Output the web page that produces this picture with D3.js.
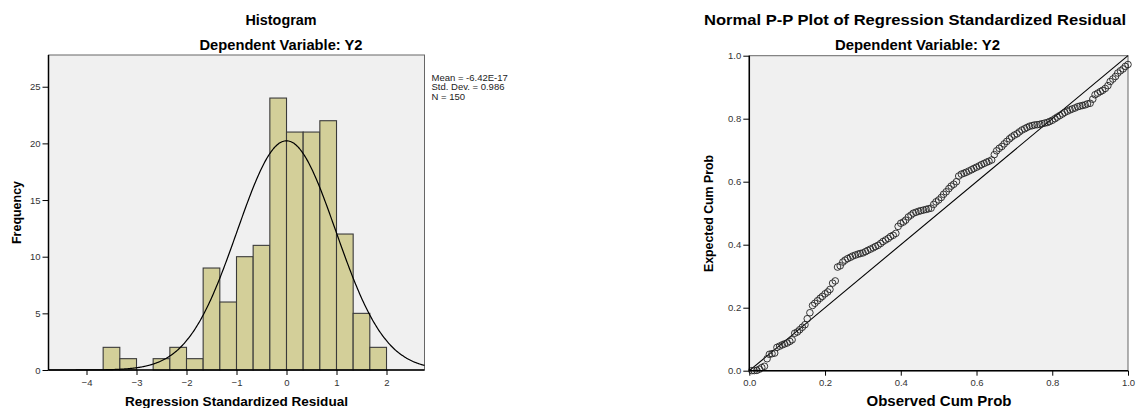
<!DOCTYPE html>
<html lang="en">
<head>
<meta charset="UTF-8">
<title>Regression residuals</title>
<script src="https://d3js.org/d3.v7.min.js"></script>
<style>
  body { margin: 0; background: #fff; }
  svg { font-family: "Liberation Sans", Arial, sans-serif; }
  .title { font-size: 14.5px; font-weight: bold; text-anchor: middle; fill: #000; }
  .axis-label { font-size: 13px; font-weight: bold; text-anchor: middle; fill: #000; }
  .tick text { font-size: 9.5px; fill: #333; font-family: "Liberation Sans", Arial, sans-serif; }
  .tick line { stroke: #000; }
  .legend { font-size: 9.5px; fill: #222; }
</style>
</head>
<body>
<svg width="1137" height="408"></svg>
<script>
// histogram: lower edge of each bin and its count
const binLo = [-3.667, -3.333, -3, -2.667, -2.333, -2, -1.667, -1.333, -1, -0.667, -0.333, 0, 0.333, 0.667, 1, 1.333, 1.667];
const binCounts = [2, 1, 0, 1, 2, 1, 9, 6, 10, 11, 24, 21, 21, 22, 12, 5, 2];
const binWidth = 1 / 3;
const histXTicks = [-4, -3, -2, -1, 0, 1, 2];
const histYTicks = [0, 5, 10, 15, 20, 25];
const resMean = -6.42e-17, resSd = 0.986, resN = 150;
const legendLines = ["Mean = -6.42E-17", "Std. Dev. = 0.986", "N = 150"];

// P-P plot: observed vs expected cumulative probability
const observedCum = [
  .007,.013,.020,.027,.033,.040,.047,.053,.060,.067,
  .073,.080,.087,.093,.100,.107,.113,.120,.127,.133,
  .140,.147,.153,.160,.167,.173,.180,.187,.193,.200,
  .207,.213,.220,.227,.233,.240,.247,.253,.260,.267,
  .273,.280,.287,.293,.300,.307,.313,.320,.327,.333,
  .340,.347,.353,.360,.367,.373,.380,.387,.393,.400,
  .407,.413,.420,.427,.433,.440,.447,.453,.460,.467,
  .473,.480,.487,.493,.500,.507,.513,.520,.527,.533,
  .540,.547,.553,.560,.567,.573,.580,.587,.593,.600,
  .607,.613,.620,.627,.633,.640,.647,.653,.660,.667,
  .673,.680,.687,.693,.700,.707,.713,.720,.727,.733,
  .740,.747,.753,.760,.767,.773,.780,.787,.793,.800,
  .807,.813,.820,.827,.833,.840,.847,.853,.860,.867,
  .873,.880,.887,.893,.900,.907,.913,.920,.927,.933,
  .940,.947,.953,.960,.967,.973,.980,.987,.993,1.000];
const expectedCum = [
  .0003,.0004,.001,.005,.010,.014,.038,.052,.054,.056,
  .074,.078,.082,.085,.088,.093,.098,.119,.123,.130,
  .138,.146,.165,.184,.207,.214,.222,.230,.236,.244,
  .250,.258,.278,.285,.329,.333,.345,.351,.356,.360,
  .364,.367,.370,.372,.374,.378,.382,.386,.390,.394,
  .398,.404,.410,.415,.420,.426,.430,.436,.458,.468,
  .472,.478,.488,.494,.500,.503,.506,.508,.510,.512,
  .514,.516,.528,.536,.542,.550,.560,.568,.578,.586,
  .592,.600,.618,.624,.627,.630,.634,.638,.642,.646,
  .650,.654,.658,.662,.665,.669,.686,.698,.706,.712,
  .720,.728,.736,.742,.748,.752,.758,.764,.768,.772,
  .776,.778,.780,.781,.782,.784,.786,.788,.791,.795,
  .800,.805,.810,.815,.820,.824,.828,.831,.834,.838,
  .840,.842,.844,.847,.849,.862,.876,.881,.886,.890,
  .896,.905,.918,.926,.934,.945,.952,.958,.966,.972];
const ppTicks = [0, 0.2, 0.4, 0.6, 0.8, 1.0];

const svg = d3.select("svg");

function frame(g, x0, x1, y0, y1) {
  g.append("rect").attr("x", x0).attr("y", y1).attr("width", x1 - x0).attr("height", y0 - y1)
    .attr("fill", "#f0f0f0").attr("stroke", "#666").attr("stroke-width", 1);
}
function axisLines(g, x0, x1, y0, y1) {
  g.append("line").attr("x1", x0).attr("x2", x0).attr("y1", y1).attr("y2", y0).attr("stroke", "#000").attr("stroke-width", 1.5);
  g.append("line").attr("x1", x0).attr("x2", x1).attr("y1", y0).attr("y2", y0).attr("stroke", "#000").attr("stroke-width", 1.5);
}
// text stretched to the width measured on the original
function label(g, cls, x, y, txt, len, rot) {
  const t = g.append("text").attr("class", cls).text(txt);
  if (rot) t.attr("transform", `translate(${x},${y}) rotate(-90)`);
  else t.attr("x", x).attr("y", y);
  if (len) t.attr("textLength", len).attr("lengthAdjust", "spacingAndGlyphs");
  return t;
}

// ---------- histogram ----------
const hx = d3.scaleLinear().domain([-4.76, 2.76]).range([48.5, 424.5]);
const hy = d3.scaleLinear().domain([0, 27.8]).range([370, 55]);
const hist = svg.append("g");
frame(hist, 48.5, 424.5, 370, 55);

const bins = binLo.map((lo, i) => ({ lo, count: binCounts[i] })).filter(d => d.count > 0);
hist.selectAll(".bar").data(bins).enter().append("rect")
  .attr("class", "bar")
  .attr("x", d => hx(d.lo))
  .attr("width", d => hx(d.lo + binWidth) - hx(d.lo))
  .attr("y", d => hy(d.count))
  .attr("height", d => hy(0) - hy(d.count))
  .attr("fill", "#d3cf99").attr("stroke", "#3a3a3a").attr("stroke-width", 1.1);

const pdf = x => Math.exp(-0.5 * Math.pow((x - resMean) / resSd, 2)) / (resSd * Math.sqrt(2 * Math.PI));
const curvePts = d3.range(-4.76, 2.77, 0.02).map(x => [x, resN * binWidth * pdf(x)]);
hist.append("path").datum(curvePts)
  .attr("d", d3.line().x(d => hx(d[0])).y(d => hy(d[1])).curve(d3.curveBasis))
  .attr("fill", "none").attr("stroke", "#000").attr("stroke-width", 1.2);

axisLines(hist, 48.5, 424.5, 370, 55);
hist.append("g").attr("transform", "translate(0,370)")
  .call(d3.axisBottom(hx).tickValues(histXTicks).tickSize(5).tickPadding(4).tickFormat(d3.format("d")))
  .call(g => g.select(".domain").remove());
hist.append("g").attr("transform", "translate(48.5,0)")
  .call(d3.axisLeft(hy).tickValues(histYTicks).tickSize(6).tickPadding(2))
  .call(g => g.select(".domain").remove());

label(hist, "title", 281, 25, "Histogram", 71);
label(hist, "title", 281, 50, "Dependent Variable: Y2", 163);
label(hist, "axis-label", 236.5, 405.5, "Regression Standardized Residual", 223);
label(hist, "axis-label", 20.5, 212.5, "Frequency", 63, true);
hist.selectAll(".legend").data(legendLines).enter().append("text")
  .attr("class", "legend").attr("x", 431.5).attr("y", (d, i) => 80.5 + i * 9.7).text(d => d);

// ---------- P-P plot ----------
const px = d3.scaleLinear().domain([0, 1]).range([749.3, 1128]);
const py = d3.scaleLinear().domain([0, 1]).range([370.7, 55.7]);
const pp = svg.append("g");
frame(pp, 749.3, 1128, 370.7, 55.7);

pp.append("line")
  .attr("x1", px(0)).attr("y1", py(0)).attr("x2", px(1)).attr("y2", py(1))
  .attr("stroke", "#000").attr("stroke-width", 1.1);

const ppData = observedCum.map((x, i) => ({ x, y: expectedCum[i] }));
pp.selectAll(".pt").data(ppData).enter().append("circle")
  .attr("class", "pt")
  .attr("cx", d => px(d.x)).attr("cy", d => py(d.y)).attr("r", 3.3)
  .attr("fill", "none").attr("stroke", "#222").attr("stroke-width", 0.9);

axisLines(pp, 749.3, 1128, 370.7, 55.7);
pp.append("g").attr("transform", "translate(0,370.7)")
  .call(d3.axisBottom(px).tickValues(ppTicks).tickSize(5).tickPadding(4).tickFormat(d3.format(".1f")))
  .call(g => g.select(".domain").remove());
pp.append("g").attr("transform", "translate(749.3,0)")
  .call(d3.axisLeft(py).tickValues(ppTicks).tickSize(6).tickPadding(2).tickFormat(d3.format(".1f")))
  .call(g => g.select(".domain").remove());

label(pp, "title", 915, 25, "Normal P-P Plot of Regression Standardized Residual", 422).style("font-size", "15.5px");
label(pp, "title", 917.5, 50, "Dependent Variable: Y2", 165);
label(pp, "axis-label", 939, 405.5, "Observed Cum Prob", 145).style("font-size", "14px");
label(pp, "axis-label", 713, 213.5, "Expected Cum Prob", 117, true).style("font-size", "13.5px");
</script>
</body>
</html>
